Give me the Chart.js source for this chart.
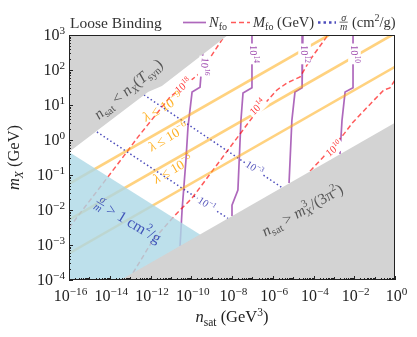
<!DOCTYPE html>
<html>
<head>
<meta charset="utf-8">
<script src="https://cdn.jsdelivr.net/npm/chart.js@4.4.0/dist/chart.umd.min.js"></script>
<style>
  html, body { margin: 0; padding: 0; background: #fff; }
  #wrap { width: 417px; height: 337px; }
</style>
</head>
<body>
<div id="wrap"><canvas id="c" width="417" height="337"></canvas></div>
<script>
// all values are log10: x = log10(n_sat / GeV^3), y = log10(m_X / GeV)
const xTickExp = [-16, -14, -12, -10, -8, -6, -4, -2, 0];
const yTickExp = [-4, -3, -2, -1, 0, 1, 2, 3];

// M_fo (GeV) contours
const mfo18 = [[-16, -2.51], [-13.35, -0.49], [-12.61, 0.09], [-11.04, 1.23], [-9.57, 1.91], [-8.34, 3.0]];
const mfo14 = [[-12.86, -3.80], [-11.88, -2.86], [-10.70, -2.09], [-9.96, -1.66], [-7.02, 0.63], [-5.79, 1.43], [-5.30, 1.63], [-4.66, 1.80], [-4.17, 2.29], [-3.29, 3.0]];
const mfo10 = [[-4.17, -0.89], [-3.53, -0.49], [-2.55, 0.14], [-2.06, 0.51], [-0.88, 1.23], [-0.54, 1.43], [-0.25, 1.49], [0, 1.71]];

// N_fo contours
const nfo16 = [[-9.42, 2.57], [-9.57, 1.51], [-9.96, 1.37], [-10.16, 0.37], [-10.26, -0.57], [-10.45, -2.0], [-10.55, -3.03]];
const nfo14 = [[-7.02, 3.0], [-7.02, 1.49], [-7.46, 1.34], [-7.56, 0.57], [-7.71, -1.43], [-8.0, -1.86], [-8.0, -2.17]];
const nfo12 = [[-4.52, 3.0], [-4.56, 1.49], [-4.91, 1.37], [-5.06, 0.57], [-5.20, -1.23]];
const nfo10 = [[-2.06, 3.0], [-2.06, 1.49], [-2.45, 1.37], [-2.60, 0.57], [-2.70, -0.40]];

// sigma/m (cm^2/g) contours
const sig3 = [[-12.32, 1.29], [-5.55, -1.36]];
const sig1 = [[-14.63, 0.23], [-8.2, -2.24]];

// lambda bounds
const lam9 = [[-16, -1.25], [-3.24, 3.0]];
const lam6 = [[-16, -2.28], [-0.15, 3.0]];
const lam3 = [[-16, -3.24], [0, 2.09]];

// excluded / shaded region edges
const synEdge = [[-16, -0.34], [-12.12, 1.37], [-11.44, 1.54], [-8.2, 3.0]];
const pauliEdge = [[-13.47, -4.0], [0, 0.49]];
const sigmaEdge = [[-16, -0.34], [-9.57, -2.70]];

const FONT = '"Liberation Serif", "DejaVu Serif", serif';
const ORANGE = 'rgba(255,165,0,0.5)';
const RED = 'rgba(255,0,0,0.65)';
const PURPLE = 'rgba(140,40,160,0.7)';
const NAVY = 'rgba(0,0,160,0.7)';

const pts = a => a.map(p => ({ x: p[0], y: p[1] }));

function line(data, color, width, dash, order) {
    return {
        data: pts(data), showLine: true, pointRadius: 0, fill: false,
        borderColor: color, borderWidth: width, borderDash: dash || [], order: order || 3
    };
}

function region(data, color, fill, order) {
    return {
        data: pts(data), showLine: true, pointRadius: 0, fill: fill,
        borderWidth: 0, borderColor: 'rgba(0,0,0,0)', backgroundColor: color, order: order
    };
}

// tiny rich-text helpers
const R = t => ({ t });
const I = t => ({ t, it: true });
const SB = (t, it) => ({ t, sub: true, it });
const SP = t => ({ t, sup: true });
const pow = e => [R('10'), SP(e < 0 ? '\u2212' + (-e) : String(e))];

function fnt(size, it) {
    return (it ? 'italic ' : '') + size.toFixed(1) + 'px ' + FONT;
}

function segW(ctx, s, size) {
    if (s.frac) {
        ctx.font = fnt(size * 0.7, true);
        return Math.max(ctx.measureText(s.frac[0]).width, ctx.measureText(s.frac[1]).width) + 2;
    }
    if (s.ss) {
        ctx.font = fnt(size * 0.7, true);
        return Math.max(ctx.measureText(s.ss[0]).width, ctx.measureText(s.ss[1]).width) + 1;
    }
    ctx.font = fnt((s.sub || s.sup) ? size * 0.7 : size, s.it);
    return ctx.measureText(s.t).width;
}

function rich(ctx, segs, x, y, o) {
    const size = o.size;
    const widths = segs.map(s => segW(ctx, s, size));
    const total = widths.reduce((a, b) => a + b, 0);
    ctx.save();
    ctx.translate(x, y);
    ctx.rotate((o.angle || 0) * Math.PI / 180);
    let x0 = o.align === 'left' ? 0 : o.align === 'right' ? -total : -total / 2;
    const by = size * 0.33;
    if (o.bg) {
        ctx.fillStyle = o.bg;
        ctx.fillRect(x0 - 1.5, by - size * 0.95, total + 3, size * 1.2);
    }
    ctx.fillStyle = o.color;
    ctx.strokeStyle = o.color;
    ctx.textAlign = 'left';
    ctx.textBaseline = 'alphabetic';
    segs.forEach((s, i) => {
        const w = widths[i];
        if (s.frac) {
            ctx.font = fnt(size * 0.7, true);
            ctx.textAlign = 'center';
            ctx.fillText(s.frac[0], x0 + w / 2, by - size * 0.42);
            ctx.fillText(s.frac[1], x0 + w / 2, by + size * 0.2);
            ctx.textAlign = 'left';
            ctx.lineWidth = Math.max(0.7, size / 20);
            ctx.beginPath();
            ctx.moveTo(x0 + 0.5, by - size * 0.32);
            ctx.lineTo(x0 + w - 0.5, by - size * 0.32);
            ctx.stroke();
        } else if (s.ss) {
            ctx.font = fnt(size * 0.7, true);
            ctx.fillText(s.ss[0], x0, by + size * 0.22);
            ctx.font = fnt(size * 0.7, false);
            ctx.fillText(s.ss[1], x0, by - size * 0.42);
        } else {
            ctx.font = fnt((s.sub || s.sup) ? size * 0.7 : size, s.it);
            const dy = s.sub ? size * 0.22 : s.sup ? -size * 0.42 : 0;
            ctx.fillText(s.t, x0, by + dy);
        }
        x0 += w;
    });
    ctx.restore();
}

// labels drawn on the plot, placed in data coordinates
const contourLabels = [
    { segs: pow(18), at: [-10.4, 1.55], angle: -40, color: 'rgba(255,0,0,0.8)' },
    { segs: pow(14), at: [-6.75, 0.94], angle: -45, color: 'rgba(255,0,0,0.8)' },
    { segs: pow(10), at: [-3.0, -0.25], angle: -40, color: 'rgba(255,0,0,0.8)' },
    { segs: pow(16), at: [-9.34, 2.1], angle: 95, color: 'rgba(140,40,160,0.85)' },
    { segs: pow(14), at: [-6.95, 2.46], angle: 90, color: 'rgba(140,40,160,0.85)' },
    { segs: pow(12), at: [-4.45, 2.46], angle: 90, color: 'rgba(140,40,160,0.85)' },
    { segs: pow(10), at: [-2.0, 2.46], angle: 90, color: 'rgba(140,40,160,0.85)' },
    { segs: pow(-3), at: [-6.9, -0.8], angle: 33, color: 'rgba(40,40,170,0.8)' },
    { segs: pow(-1), at: [-9.25, -1.83], angle: 33, color: 'rgba(40,40,170,0.8)' }
];

const lamLabels = [
    { exp: -9, at: [-11.4, 0.94] },
    { exp: -6, at: [-11.13, 0.09] },
    { exp: -3, at: [-10.9, -0.83] }
];

const decor = {
    id: 'decor',
    afterDraw(chart) {
        const ctx = chart.ctx;
        const xs = chart.scales.x, ys = chart.scales.y;
        const a = chart.chartArea;
        const px = v => xs.getPixelForValue(v), py = v => ys.getPixelForValue(v);

        // contour labels with inline gaps
        contourLabels.forEach(l => {
            rich(ctx, l.segs, px(l.at[0]), py(l.at[1]), { size: 10.5, color: l.color, angle: l.angle, bg: '#fff' });
        });
        lamLabels.forEach(l => {
            rich(ctx, [I('\u03bb'), R(' \u2264 10'), SP('\u2212' + (-l.exp))], px(l.at[0]), py(l.at[1]),
                { size: 13.5, color: 'rgba(255,165,0,0.85)', angle: -30 });
        });

        // region annotations
        rich(ctx, [I('n'), SB('sat'), R(' < '), I('n'), SB('X', true), R('('), I('T'), SB('syn'), R(')')],
            px(-13.1), py(1.46), { size: 15.5, color: '#555', angle: -40 });
        rich(ctx, [I('n'), SB('sat'), R(' > '), I('m'), { ss: ['X', '3'] }, R('/(3\u03c0'), SP('2'), R(')')],
            px(-4.55), py(-2.0), { size: 15.5, color: '#555', angle: -29.5 });
        rich(ctx, [{ frac: ['\u03c3', 'm'] }, R(' > 1 cm'), SP('2'), R('/g')],
            px(-13.1), py(-2.29), { size: 15.5, color: 'rgb(65,85,185)', angle: 31 });

        // frame
        ctx.save();
        ctx.strokeStyle = '#222';
        ctx.lineWidth = 1;
        ctx.strokeRect(a.left + 0.5, a.top + 0.5, a.right - a.left - 1, a.bottom - a.top - 1);

        // ticks (inward)
        ctx.beginPath();
        for (let d = -16; d <= 0; d++) {
            const major = xTickExp.includes(d);
            const x = Math.round(px(d)) + 0.5;
            ctx.moveTo(x, a.bottom); ctx.lineTo(x, a.bottom - (major ? 4 : 3));
            if (d < 0) {
                for (let k = 2; k <= 9; k++) {
                    const xm = Math.round(px(d + Math.log10(k))) + 0.5;
                    ctx.moveTo(xm, a.bottom); ctx.lineTo(xm, a.bottom - 2);
                }
            }
        }
        for (let d = -4; d <= 3; d++) {
            const y = Math.round(py(d)) + 0.5;
            ctx.moveTo(a.left, y); ctx.lineTo(a.left + 4, y);
            if (d < 3) {
                for (let k = 2; k <= 9; k++) {
                    const ym = Math.round(py(d + Math.log10(k))) + 0.5;
                    ctx.moveTo(a.left, ym); ctx.lineTo(a.left + 2, ym);
                }
            }
        }
        ctx.stroke();
        ctx.restore();

        // tick labels
        xTickExp.forEach(e => rich(ctx, pow(e), px(e) + 1.5, a.bottom + 16, { size: 16, color: '#222' }));
        yTickExp.forEach(e => rich(ctx, pow(e), a.left - 4, py(e), { size: 16, color: '#222', align: 'right' }));

        // axis titles
        rich(ctx, [I('n'), SB('sat'), R(' (GeV'), SP('3'), R(')')], (a.left + a.right) / 2, a.bottom + 37, { size: 16.5, color: '#222' });
        rich(ctx, [I('m'), SB('X', true), R(' (GeV)')], 14, (a.top + a.bottom) / 2, { size: 16.5, color: '#222', angle: -90 });

        // legend row
        rich(ctx, [R('Loose Binding')], 70, 23, { size: 15.5, color: '#333', align: 'left' });
        ctx.save();
        ctx.lineWidth = 1.7; ctx.strokeStyle = PURPLE;
        ctx.beginPath(); ctx.moveTo(183, 22.5); ctx.lineTo(206, 22.5); ctx.stroke();
        ctx.lineWidth = 1.5; ctx.strokeStyle = RED; ctx.setLineDash([5, 3]);
        ctx.beginPath(); ctx.moveTo(231, 22.5); ctx.lineTo(250, 22.5); ctx.stroke();
        ctx.lineWidth = 2.5; ctx.strokeStyle = NAVY; ctx.setLineDash([2.5, 3]);
        ctx.beginPath(); ctx.moveTo(318, 22.5); ctx.lineTo(336, 22.5); ctx.stroke();
        ctx.restore();
        rich(ctx, [I('N'), SB('fo')], 209, 22, { size: 14.5, color: '#333', align: 'left' });
        rich(ctx, [I('M'), SB('fo'), R(' (GeV)')], 253, 22, { size: 14.5, color: '#333', align: 'left' });
        rich(ctx, [{ frac: ['\u03c3', 'm'] }, R(' (cm'), SP('2'), R('/g)')], 339, 22, { size: 14.5, color: '#333', align: 'left' });
    }
};

new Chart(document.getElementById('c'), {
    type: 'scatter',
    data: {
        datasets: [
            line(lam9, ORANGE, 2.6),
            line(lam6, ORANGE, 2.6),
            line(lam3, ORANGE, 2.6),
            line(mfo18, RED, 1.5, [5, 3]),
            line(mfo14, RED, 1.5, [5, 3]),
            line(mfo10, RED, 1.5, [5, 3]),
            line(nfo16, PURPLE, 1.7),
            line(nfo14, PURPLE, 1.7),
            line(nfo12, PURPLE, 1.7),
            line(nfo10, PURPLE, 1.7),
            line(sig3, NAVY, 1.5, [1.5, 2.5]),
            line(sig1, NAVY, 1.5, [1.5, 2.5]),
            region(sigmaEdge, 'rgba(173,216,230,0.8)', 'start', 2),
            region(pauliEdge, '#d3d3d3', 'start', 1),
            region(synEdge, '#d3d3d3', 'end', 1)
        ]
    },
    options: {
        responsive: false,
        animation: false,
        devicePixelRatio: 1,
        layout: { padding: { left: 69, right: 22, top: 35, bottom: 57 } },
        scales: {
            x: { type: 'linear', min: -16, max: 0, display: false },
            y: { type: 'linear', min: -4, max: 3, display: false }
        },
        plugins: { legend: { display: false }, tooltip: { enabled: false } }
    },
    plugins: [decor]
});
</script>
</body>
</html>
